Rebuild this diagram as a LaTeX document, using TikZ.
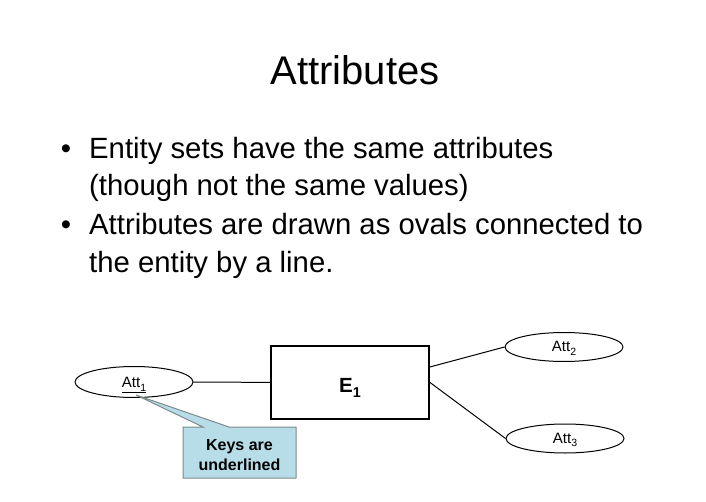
\documentclass[tikz,border=0pt]{standalone}
\usepackage{fontspec}
\setmainfont{Liberation Sans}
\usetikzlibrary{shapes.geometric}
\definecolor{callfill}{HTML}{B7DEE8}
\definecolor{callline}{HTML}{7F8A8C}
\newcommand{\lowsub}[1]{\raisebox{-0.25em}{\scalebox{0.7}{#1}}}
\tikzset{
  attr/.style={draw, ellipse, line width=1pt, inner sep=0pt, minimum width=118pt, minimum height=29pt, text height=9pt, text depth=0pt, font=\fontsize{15}{18}\selectfont},
  entity/.style={draw, rectangle, line width=2pt, inner sep=0pt, minimum width=158pt, minimum height=73pt, text height=19pt, text depth=0pt, font=\bfseries\fontsize{20.5}{24}\selectfont},
  bodytext/.style={anchor=base west, inner sep=0pt, font=\fontsize{29.3}{35}\selectfont},
  bulletmark/.style={anchor=base, inner sep=0pt, font=\fontsize{29.3}{35}\selectfont},
  conn/.style={line width=1pt},
}
\begin{document}
\begin{tikzpicture}[x=1pt,y=-1pt]
\useasboundingbox (0,0) rectangle (706,502);
\fill[white] (0,0) rectangle (706,502);
\node[anchor=base, inner sep=0pt, font=\fontsize{40}{48}\selectfont] (title) at (355,85) {Attributes};
\node[bulletmark] (b1) at (66,159) {•};
\node[bodytext] (l1) at (89,159) {Entity sets have the same attributes};
\node[bodytext] (l2) at (89,196) {(though not the same values)};
\node[bulletmark] (b2) at (66,235) {•};
\node[bodytext] (l3) at (89,235) {Attributes are drawn as ovals connected to};
\node[bodytext] (l4) at (89,273) {the entity by a line.};
\node[entity] (e1) at (350,382.5) {E\lowsub{1}};
\node[attr, minimum height=31pt, text height=11pt] (a1) at (134,382) {\underline{Att\lowsub{1}}};
\node[attr] (a2) at (564,347) {Att\lowsub{2}};
\node[attr] (a3) at (565,438.5) {Att\lowsub{3}};
\draw[conn] (a1) -- (e1);
\draw[conn] (e1.11.5) -- (a2.west);
\draw[conn] (e1.east) -- (a3.west);
\coordinate (tip) at (136,395);
\coordinate (c1) at (183,427);
\coordinate (p1) at (203,427);
\coordinate (p2) at (229,427);
\coordinate (c2) at (296,427);
\coordinate (c3) at (296,478);
\coordinate (c4) at (183,478);
\draw[fill=callfill, draw=callline, line width=1pt] (c1) -- (p1) -- (tip) -- (p2) -- (c2) -- (c3) -- (c4) -- cycle;
\node[align=center, inner sep=0pt, font=\bfseries\fontsize{16}{20.5}\selectfont] (keys) at (239.5,455) {Keys are\\underlined};
\end{tikzpicture}
\end{document}
